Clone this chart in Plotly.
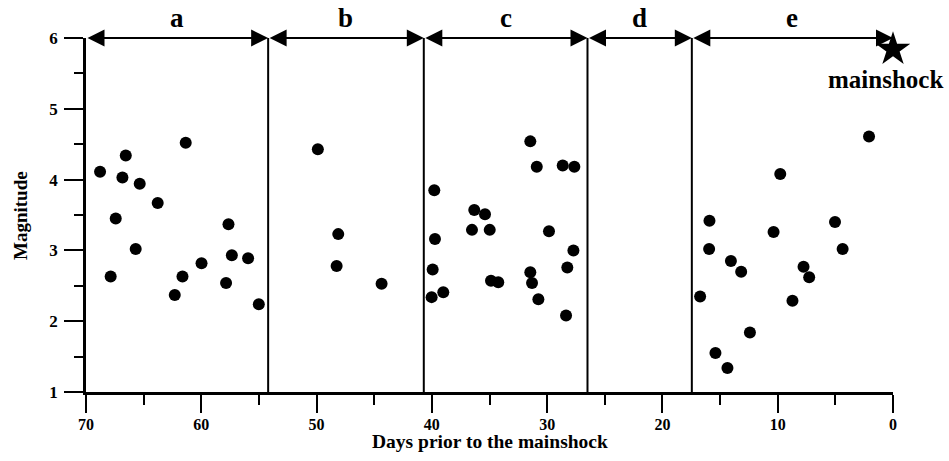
import plotly.graph_objects as go

# ---- data ----
days = [61.35, 66.55, 68.78, 66.84, 65.34, 63.78, 67.42, 57.64, 65.69, 57.35, 55.94, 59.98,
        67.86, 61.63, 57.85, 62.3, 55.01,
        49.89, 48.12, 48.26, 44.36,
        31.46, 30.9, 28.65, 27.64, 39.79, 36.32, 35.39, 36.52, 34.98, 29.84, 39.73, 27.72,
        39.93, 28.25, 31.46, 34.87, 34.24, 31.31, 39.01, 40.02, 30.76, 28.36,
        2.08, 9.78, 15.92, 5.03, 10.36, 15.95, 4.37, 14.06, 13.17, 7.76, 7.27, 16.73,
        8.72, 12.41, 15.4, 14.36]
magnitude = [4.52, 4.34, 4.11, 4.03, 3.94, 3.67, 3.45, 3.37, 3.02, 2.93, 2.89, 2.82,
             2.63, 2.63, 2.54, 2.37, 2.24,
             4.43, 3.23, 2.78, 2.53,
             4.54, 4.18, 4.20, 4.18, 3.85, 3.57, 3.51, 3.29, 3.29, 3.27, 3.16, 3.00,
             2.73, 2.76, 2.69, 2.57, 2.55, 2.54, 2.41, 2.34, 2.31, 2.08,
             4.61, 4.08, 3.42, 3.40, 3.26, 3.02, 3.02, 2.85, 2.70, 2.77, 2.62, 2.35,
             2.29, 1.84, 1.55, 1.34]
boundaries = [70, 54.2, 40.7, 26.5, 17.45, 0]
segment_labels = ["a", "b", "c", "d", "e"]
mainshock_day = [0]
mainshock_mag = [5.84]
x_ticks = [70, 60, 50, 40, 30, 20, 10, 0]
y_ticks = [1, 2, 3, 4, 5, 6]
x_title = "Days prior to the mainshock"
y_title = "Magnitude"

FONT = "Liberation Serif"

fig = go.Figure()
fig.add_trace(go.Scatter(x=days, y=magnitude, mode="markers",
                         marker=dict(color="black", size=12), cliponaxis=False,
                         showlegend=False, hoverinfo="skip"))
fig.add_trace(go.Scatter(x=mainshock_day, y=mainshock_mag, mode="markers",
                         marker=dict(color="black", size=26, symbol="star"),
                         cliponaxis=False, showlegend=False, hoverinfo="skip"))

# vertical separators
for b in boundaries[1:-1]:
    fig.add_shape(type="line", x0=b, x1=b, y0=1, y1=6, xref="x", yref="y",
                  line=dict(color="black", width=2))

annotations = []
for i, lab in enumerate(segment_labels):
    x0, x1 = boundaries[i], boundaries[i + 1]
    annotations.append(dict(x=x1, y=6, ax=x0, ay=6, xref="x", yref="y", axref="x", ayref="y",
                            text="", showarrow=True, arrowside="end+start",
                            arrowhead=2, startarrowhead=2, arrowsize=1.7, startarrowsize=1.7,
                            arrowwidth=2, arrowcolor="black", standoff=0, startstandoff=0))
    annotations.append(dict(x=(x0 + x1) / 2, y=6, xref="x", yref="y", text=lab, showarrow=False,
                            yshift=20, font=dict(family=FONT, size=27, color="black", weight="bold")))
annotations.append(dict(x=mainshock_day[0], y=5.42, xref="x", yref="y", text="mainshock",
                        showarrow=False, xshift=-8,
                        font=dict(family=FONT, size=25, color="black", weight="bold")))
annotations.append(dict(x=0.5, y=-0.1412, xref="paper", yref="paper", text=x_title,
                        showarrow=False, xanchor="center", yanchor="middle",
                        font=dict(family=FONT, size=19.5, color="black", weight="bold")))
annotations.append(dict(x=-0.0818, y=0.5, xref="paper", yref="paper", text=y_title,
                        showarrow=False, xanchor="center", yanchor="middle", textangle=-90,
                        font=dict(family=FONT, size=19, color="black", weight="bold")))

fig.update_layout(
    width=949, height=461,
    margin=dict(l=86, r=56, t=38, b=69),
    plot_bgcolor="white", paper_bgcolor="white",
    annotations=annotations,
    font=dict(family=FONT, color="black"),
)
fig.update_xaxes(range=[70, 0], tickvals=x_ticks, ticks="outside", ticklen=18, tickwidth=2,
                 tickcolor="black", showline=True, linewidth=2.5, linecolor="black",
                 showgrid=False, zeroline=False, ticklabelstandoff=-2,
                 minor=dict(dtick=5, tick0=0, ticks="outside", ticklen=10, tickwidth=2,
                            tickcolor="black", showgrid=False),
                 tickfont=dict(family=FONT, size=16, color="black", weight="bold"))
fig.update_yaxes(range=[1, 6], tickvals=y_ticks, ticks="outside", ticklen=19, tickwidth=2,
                 tickcolor="black", showline=True, linewidth=2.5, linecolor="black",
                 showgrid=False, zeroline=False, ticklabelstandoff=3,
                 minor=dict(dtick=0.5, tick0=0, ticks="outside", ticklen=9, tickwidth=2,
                            tickcolor="black", showgrid=False),
                 tickfont=dict(family=FONT, size=17, color="black", weight="bold"))

fig.write_html("out.html")
